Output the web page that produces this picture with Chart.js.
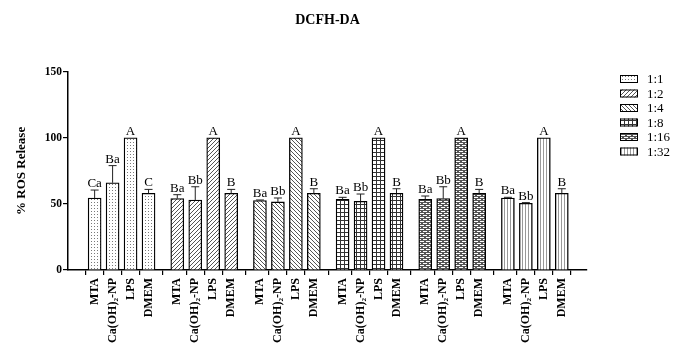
<!DOCTYPE html>
<html>
<head>
<meta charset="utf-8">
<script src="https://cdn.jsdelivr.net/npm/chart.js@4.4.0/dist/chart.umd.min.js"></script>
<style>
  html, body { margin: 0; padding: 0; background: #fff; }
</style>
</head>
<body>
<canvas id="c" width="684" height="348"></canvas>
<script>
var ratios = ['1:1', '1:2', '1:4', '1:8', '1:16', '1:32'];
var treatments = ['MTA', 'Ca(OH)₂-NP', 'LPS', 'DMEM'];
var yTicks = [0, 50, 100, 150];

// mean % ROS release per ratio (MTA, Ca(OH)2-NP, LPS, DMEM)
var ros11 = [54.5, 66, 100, 58];
var ros12 = [54, 53, 100, 58];
var ros14 = [52.5, 51.5, 100, 58];
var ros18 = [53.5, 52, 100, 58];
var ros116 = [53.5, 54, 100, 58];
var ros132 = [54.5, 50.5, 100, 58];

// upper error (SD)
var sd11 = [6, 13, 0, 3];
var sd12 = [3, 10, 0, 3];
var sd14 = [0.5, 3, 0, 3.5];
var sd18 = [1.5, 5.5, 0, 3.5];
var sd116 = [2.5, 9, 0, 3];
var sd132 = [0.5, 0.5, 0, 3.5];

// significance letters
var let11 = ['Ca', 'Ba', 'A', 'C'];
var let12 = ['Ba', 'Bb', 'A', 'B'];
var let14 = ['Ba', 'Bb', 'A', 'B'];
var let18 = ['Ba', 'Bb', 'A', 'B'];
var let116 = ['Ba', 'Bb', 'A', 'B'];
var let132 = ['Ba', 'Bb', 'A', 'B'];

var values = [ros11, ros12, ros14, ros18, ros116, ros132];
var errors = [sd11, sd12, sd14, sd18, sd116, sd132];
var letters = [let11, let12, let14, let18, let116, let132];

var serif = '"Liberation Serif", "Times New Roman", serif';
Chart.defaults.font.family = serif;
Chart.defaults.color = '#000';

var canvas = document.getElementById('c');
var ctx = canvas.getContext('2d');

function pattern(w, h, bg, draw) {
  var pc = document.createElement('canvas');
  pc.width = w; pc.height = h;
  var g = pc.getContext('2d');
  g.fillStyle = bg; g.fillRect(0, 0, w, h);
  draw(g);
  return ctx.createPattern(pc, 'repeat');
}

var fills = [
  pattern(3, 3, '#fff', function(g) { g.fillStyle = '#7a7a7a'; g.fillRect(1, 1, 1, 1); }),
  pattern(4, 4, '#fff', function(g) {
    g.strokeStyle = '#555'; g.lineWidth = 1;
    g.beginPath(); g.moveTo(-1, 1); g.lineTo(1, -1); g.moveTo(0, 4); g.lineTo(4, 0); g.moveTo(3, 5); g.lineTo(5, 3); g.stroke();
  }),
  pattern(4, 4, '#fff', function(g) {
    g.strokeStyle = '#555'; g.lineWidth = 1;
    g.beginPath(); g.moveTo(-1, 3); g.lineTo(1, 5); g.moveTo(0, 0); g.lineTo(4, 4); g.moveTo(3, -1); g.lineTo(5, 1); g.stroke();
  }),
  pattern(4, 4, '#fff', function(g) { g.fillStyle = '#333'; g.fillRect(0, 0, 4, 1); g.fillRect(0, 0, 1, 4); }),
  pattern(6, 4, '#555', function(g) { g.fillStyle = '#fff'; g.fillRect(0, 1, 4, 1); g.fillRect(3, 3, 3, 1); g.fillRect(0, 3, 1, 1); }),
  pattern(3, 1, '#fff', function(g) { g.fillStyle = '#999'; g.fillRect(0, 0, 1, 1); })
];

// bar positions: 4 bars per group, groups spaced a bit wider than one bar slot
var groupStep = 4.6;
var positions = [];
ratios.forEach(function(r, g) {
  treatments.forEach(function(t, i) { positions.push(g * groupStep + i); });
});

var datasets = ratios.map(function(r, g) {
  return {
    label: r,
    data: treatments.map(function(t, i) { return { x: g * groupStep + i, y: values[g][i] }; }),
    backgroundColor: fills[g],
    borderColor: '#000',
    borderWidth: 1.3,
    borderSkipped: 'bottom',
    barThickness: 13,
    grouped: false
  };
});

var errorBars = {
  id: 'errorBars',
  afterDatasetsDraw: function(chart) {
    var c = chart.ctx, ys = chart.scales.y;
    c.save();
    c.strokeStyle = '#222';
    c.lineWidth = 1;
    c.fillStyle = '#000';
    c.font = '13px ' + serif;
    c.textAlign = 'center';
    c.textBaseline = 'alphabetic';
    chart.data.datasets.forEach(function(ds, g) {
      var meta = chart.getDatasetMeta(g);
      meta.data.forEach(function(bar, i) {
        var top = ys.getPixelForValue(values[g][i] + errors[g][i]);
        if (errors[g][i] > 0) {
          c.beginPath();
          c.moveTo(bar.x, bar.y);
          c.lineTo(bar.x, top);
          c.moveTo(bar.x - 4, top);
          c.lineTo(bar.x + 4, top);
          c.stroke();
        }
        c.fillText(letters[g][i], bar.x, top - 3);
      });
    });
    c.restore();
  }
};

var sideLegend = {
  id: 'sideLegend',
  afterDraw: function(chart) {
    var c = chart.ctx;
    c.save();
    c.font = '13px ' + serif;
    c.textBaseline = 'middle';
    c.textAlign = 'left';
    chart.data.datasets.forEach(function(ds, g) {
      var yy = 79 + g * 14.5;
      c.fillStyle = ds.backgroundColor;
      c.fillRect(620, yy - 4, 18, 8);
      c.strokeStyle = '#000';
      c.lineWidth = 1;
      c.strokeRect(620.5, yy - 3.5, 17, 7);
      c.fillStyle = '#000';
      c.fillText(ds.label, 647, yy + 1);
    });
    c.restore();
  }
};

new Chart(canvas, {
  type: 'bar',
  data: { datasets: datasets },
  plugins: [errorBars, sideLegend],
  options: {
    responsive: false,
    animation: false,
    devicePixelRatio: 1,
    layout: { padding: { left: 14, right: 97, top: 0, bottom: 0 } },
    plugins: {
      legend: { display: false },
      tooltip: { enabled: false },
      title: {
        display: true,
        fullSize: false,
        text: 'DCFH-DA',
        color: '#000',
        font: { size: 14, weight: 'bold', family: serif },
        padding: { top: 12, bottom: 43 }
      }
    },
    scales: {
      x: {
        type: 'linear',
        min: -0.88,
        max: 26.8,
        afterBuildTicks: function(s) { s.ticks = positions.map(function(p) { return { value: p }; }); },
        afterFit: function(s) { s.height = 78; },
        ticks: {
          autoSkip: false,
          minRotation: 90,
          maxRotation: 90,
          padding: 3,
          color: '#000',
          font: { size: 12, weight: 'bold', family: serif },
          callback: function(v, idx) { return treatments[idx % treatments.length]; }
        },
        grid: { drawOnChartArea: false, drawTicks: true, tickLength: 5, color: '#000', lineWidth: 1.2 },
        border: { color: '#000', width: 1.5 }
      },
      y: {
        min: 0,
        max: 150,
        afterBuildTicks: function(s) { s.ticks = yTicks.map(function(v) { return { value: v }; }); },
        afterFit: function(s) { s.width = 68 - 14; },
        ticks: { padding: 1, color: '#000', font: { size: 11.5, weight: 'bold', family: serif } },
        grid: { drawOnChartArea: false, drawTicks: true, tickLength: 5, color: '#000', lineWidth: 1.2 },
        border: { color: '#000', width: 1.5 },
        title: {
          display: true,
          text: '% ROS Release',
          color: '#000',
          padding: { top: 0, bottom: 0 },
          font: { size: 13, weight: 'bold', family: serif }
        }
      }
    }
  }
});
</script>
</body>
</html>
